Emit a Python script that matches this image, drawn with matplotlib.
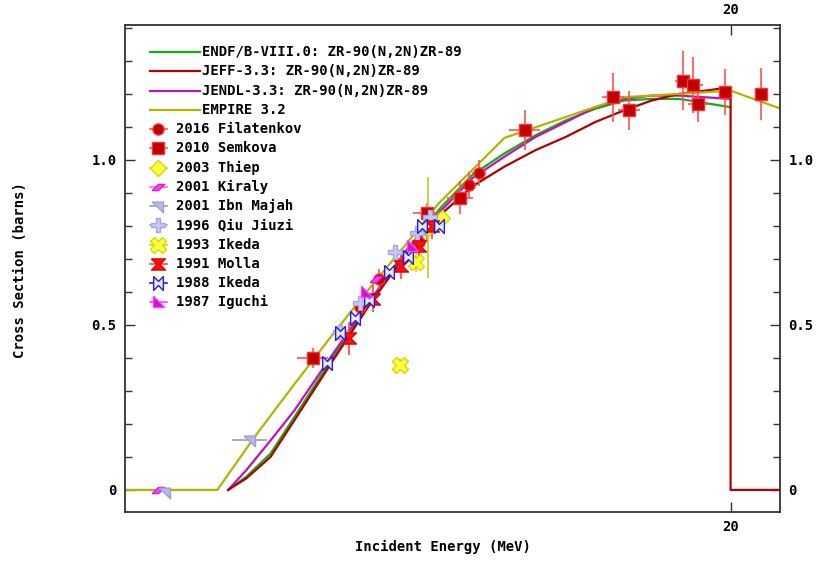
import matplotlib as mpl
mpl.use('Agg')
import matplotlib.pyplot as plt
from matplotlib.ticker import FixedLocator, NullLocator, MultipleLocator

plt.rcParams['font.family'] = ['DejaVu Sans Mono']
plt.rcParams['font.weight'] = 'bold'
plt.rcParams['font.size'] = 10

# evaluated cross sections, Zr-90(n,2n)Zr-89  (MeV, barns)
endf_e = [12.18, 12.4, 12.7, 13.0, 13.5, 14.0, 14.5, 15.0, 15.5, 16.0, 16.5, 17.0, 17.5, 18.0, 18.5, 19.0, 19.3, 19.6, 20.0]
endf_xs = [0.0, 0.04, 0.11, 0.22, 0.40, 0.57, 0.72, 0.85, 0.955, 1.02, 1.075, 1.12, 1.155, 1.18, 1.185, 1.185, 1.178, 1.17, 1.16]

jeff_e = [12.18, 12.4, 12.7, 13.0, 13.5, 14.0, 14.5, 15.0, 15.5, 16.0, 16.5, 17.0, 17.5, 18.0, 18.5, 19.0, 19.5, 20.0, 20.0, 21.5]
jeff_xs = [0.0, 0.035, 0.10, 0.21, 0.39, 0.56, 0.71, 0.83, 0.92, 0.98, 1.03, 1.07, 1.115, 1.15, 1.18, 1.20, 1.21, 1.22, 0.0, 0.0]

jendl_e = [12.18, 12.4, 12.7, 13.0, 13.5, 14.0, 14.5, 15.0, 15.5, 16.0, 16.5, 17.0, 17.5, 18.0, 18.5, 19.0, 19.5, 20.0]
jendl_xs = [0.0, 0.06, 0.15, 0.24, 0.41, 0.57, 0.72, 0.84, 0.945, 1.01, 1.07, 1.115, 1.16, 1.185, 1.195, 1.195, 1.19, 1.185]

empire_e = [10.5, 12.05, 12.5, 13.0, 13.5, 14.0, 14.5, 15.0, 15.5, 16.0, 18.0, 20.0, 21.5]
empire_xs = [0.0, 0.0, 0.16, 0.32, 0.47, 0.61, 0.74, 0.87, 0.97, 1.067, 1.19, 1.21, 1.13]

# measurements: energy, cross section, energy error, cross section error
filatenkov_e = [13.87, 14.14, 14.70, 14.82, 15.45, 15.60]
filatenkov_xs = [0.555, 0.64, 0.75, 0.79, 0.924, 0.96]
filatenkov_de = [0.05, 0.05, 0.08, 0.08, 0.1, 0.1]
filatenkov_dxs = [0.03, 0.03, 0.04, 0.04, 0.04, 0.04]

semkova_e = [13.24, 14.82, 15.31, 16.32, 17.81, 18.09, 19.08, 19.27, 19.37, 19.89, 20.6]
semkova_xs = [0.40, 0.84, 0.885, 1.09, 1.19, 1.15, 1.24, 1.227, 1.17, 1.206, 1.20]
semkova_de = [0.2, 0.2, 0.2, 0.25, 0.2, 0.2, 0.15, 0.2, 0.2, 0.1, 0.0]
semkova_dxs = [0.03, 0.03, 0.05, 0.06, 0.075, 0.06, 0.09, 0.085, 0.055, 0.07, 0.08]

thiep_e = [14.84, 15.04]
thiep_xs = [0.795, 0.824]
thiep_dxs = [0.153, 0.02]

kiraly_e = [11.36, 14.10]
kiraly_xs = [0.0, 0.64]

ibn_e = [11.44, 12.44]
ibn_xs = [-0.006, 0.15]
ibn_de = [0.0, 0.21]

qiu_e = [13.60, 13.87, 14.36, 14.68, 14.87]
qiu_xs = [0.48, 0.566, 0.72, 0.78, 0.827]

ikeda93_e = [14.43, 14.66]
ikeda93_xs = [0.38, 0.69]
ikeda93_dxs = [0.02, 0.03]

molla_e = [13.72, 14.05, 14.45, 14.70, 14.90]
molla_xs = [0.46, 0.58, 0.68, 0.74, 0.80]
molla_dxs = [0.05, 0.04, 0.04, 0.05, 0.04]

ikeda88_e = [13.43, 13.60, 13.80, 14.00, 14.27, 14.54, 14.75, 15.00]
ikeda88_xs = [0.385, 0.475, 0.52, 0.576, 0.66, 0.706, 0.80, 0.80]

iguchi_e = [13.95, 14.60]
iguchi_xs = [0.60, 0.74]

kiraly_m = [(-1, -0.5), (0, 0.5), (1, 0.5), (0, -0.5), (-1, -0.5)]
ibn_m = [(-1, 0.7), (0.8, 0.7), (0.8, -1), (-1, 0.7)]
molla_m = [(-1, 0.8), (1, 0.8), (0.2, 0), (1, -0.8), (-1, -0.8), (-0.2, 0), (-1, 0.8)]
ikeda88_m = [(-0.7, 1), (0, 0.3), (0.7, 1), (0.7, -1), (0, -0.3), (-0.7, -1), (-0.7, 1)]
iguchi_m = [(-0.8, 1), (-0.8, -0.8), (1, -0.8), (-0.8, 1)]

fig = plt.figure(figsize=(8.18, 5.61), dpi=100)
ax = fig.add_axes([125/818, 49/561, 655/818, 487/561])

ax.plot(endf_e, endf_xs, color='#10b010', lw=1.6)
ax.plot(jendl_e, jendl_xs, color='#c010c0', lw=1.6)
ax.plot(jeff_e, jeff_xs, color='#b00000', lw=1.6)
ax.plot(empire_e, empire_xs, color='#b4b400', lw=1.6)

# (label, e, xs, de, dxs, marker, face, edge, errcolor, size)
sets = [
    ('2016 Filatenkov', filatenkov_e, filatenkov_xs, filatenkov_de, filatenkov_dxs, 'o', '#c00000', '#ff3030', '#ff5050', 8),
    ('2010 Semkova', semkova_e, semkova_xs, semkova_de, semkova_dxs, 's', '#c00000', '#ff3030', '#ff5050', 8),
    ('2003 Thiep', thiep_e, thiep_xs, None, thiep_dxs, 'D', '#ffff40', '#d8d800', '#c8c820', 8),
    ('2001 Kiraly', kiraly_e, kiraly_xs, None, None, kiraly_m, '#ff40ff', '#d020d0', '#ff60ff', 9),
    ('2001 Ibn Majah', ibn_e, ibn_xs, ibn_de, None, ibn_m, '#b8b8f0', '#a0a0d0', '#a0a0a0', 9),
    ('1996 Qiu Jiuzi', qiu_e, qiu_xs, None, None, 'P', '#c8c8f8', '#a8a8d8', '#a8a8d8', 10),
    ('1993 Ikeda', ikeda93_e, ikeda93_xs, None, ikeda93_dxs, 'X', '#ffff40', '#d8d800', '#d8d800', 11),
    ('1991 Molla', molla_e, molla_xs, None, molla_dxs, molla_m, '#ff1010', '#e00000', '#ff4040', 10),
    ('1988 Ikeda', ikeda88_e, ikeda88_xs, None, None, ikeda88_m, '#e8e8ff', '#2020d0', '#2020d0', 10),
    ('1987 Iguchi', iguchi_e, iguchi_xs, None, None, iguchi_m, '#d010d0', '#ff40ff', '#ff40ff', 9),
]

for lab, e, xs, de, dxs, m, fc, ec, erc, ms in sets:
    if de is not None or dxs is not None:
        ax.errorbar(e, xs, xerr=de, yerr=dxs, fmt='none', ecolor=erc, elinewidth=1.2, capsize=0, zorder=3)
    ax.plot(e, xs, ls='none', marker=m, ms=ms, mfc=fc, mec=ec, mew=1, zorder=4)

ax.set_xscale('log')
ax.set_xlim(11.0, 21.0)
ax.set_ylim(-0.067, 1.409)

ax.xaxis.set_major_locator(FixedLocator([20]))
ax.xaxis.set_minor_locator(NullLocator())
ax.set_xticklabels(['20'])
ax.yaxis.set_major_locator(FixedLocator([0, 0.5, 1.0]))
ax.yaxis.set_minor_locator(MultipleLocator(0.1))
ax.set_yticklabels(['0', '0.5', '1.0'])
ax.tick_params(which='both', direction='in', top=True, right=True,
               labeltop=True, labelright=True, color='#333333', width=1)
ax.tick_params(which='major', length=7, pad=6)
ax.tick_params(which='minor', length=5)
for s in ax.spines.values():
    s.set_color('#333333')
    s.set_linewidth(1.3)

fig.text(443/818, 1 - 547/561, 'Incident Energy (MeV)', ha='center', va='center')
fig.text(20/818, 1 - 270/561, 'Cross Section (barns)', ha='center', va='center', rotation=90)

# hand-made legend in axes coordinates
row0 = (512 - 52) / 487
dy = 19.25 / 487
curves = [('ENDF/B-VIII.0: ZR-90(N,2N)ZR-89', '#10b010'),
          ('JEFF-3.3: ZR-90(N,2N)ZR-89', '#b00000'),
          ('JENDL-3.3: ZR-90(N,2N)ZR-89', '#c010c0'),
          ('EMPIRE 3.2', '#b4b400')]
for i, (lab, c) in enumerate(curves):
    y = row0 - i * dy
    ax.plot([0.038, 0.1145], [y, y], color=c, lw=1.6, transform=ax.transAxes, clip_on=False)
    ax.text(0.117, y, lab, transform=ax.transAxes, va='center', ha='left')
for j, (lab, e, xs, de, dxs, m, fc, ec, erc, ms) in enumerate(sets):
    y = row0 - (j + 4) * dy
    ax.plot([0.038, 0.064], [y, y], color=erc, lw=1.2, transform=ax.transAxes, clip_on=False)
    ax.plot([0.051], [y], marker=m, ms=ms, mfc=fc, mec=ec, mew=1, transform=ax.transAxes, clip_on=False)
    ax.text(0.078, y, lab, transform=ax.transAxes, va='center', ha='left')

plt.savefig('out.png', dpi=100)
